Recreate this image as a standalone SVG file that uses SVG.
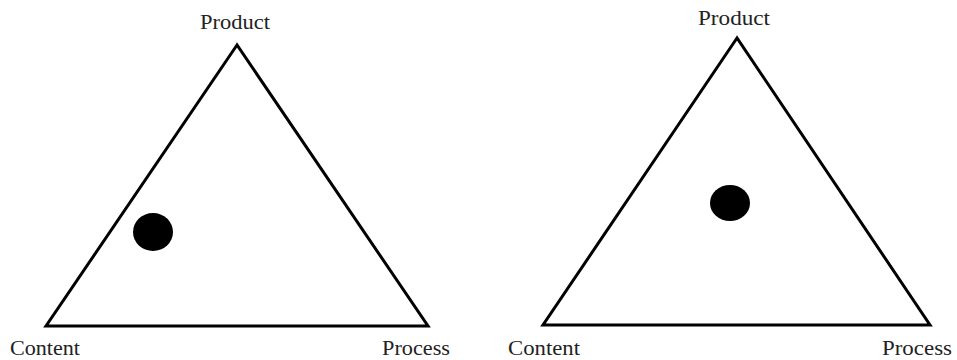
<svg xmlns="http://www.w3.org/2000/svg" width="957" height="360" viewBox="0 0 957 360">
<style>
.tri{fill:none;stroke:#000;stroke-width:3;stroke-linejoin:miter}
.lbl{font-family:"Liberation Serif","Times New Roman",serif;font-size:21px;fill:#222}
.low{font-size:20px}
.dot{fill:#000}
</style>
<rect width="957" height="360" fill="#fff"/>
<g id="left-diagram">
<polygon class="tri" points="237,45 46,326 428,326"/>
<ellipse class="dot" cx="153" cy="232" rx="20" ry="19"/>
<text class="lbl" x="200" y="29" textLength="70" lengthAdjust="spacingAndGlyphs">Product</text>
<text class="lbl low" x="10" y="355" textLength="70" lengthAdjust="spacingAndGlyphs">Content</text>
<text class="lbl low" x="382" y="355" textLength="68" lengthAdjust="spacingAndGlyphs">Process</text>
</g>
<g id="right-diagram">
<polygon class="tri" points="737,38 543,325 930,325"/>
<ellipse class="dot" cx="730" cy="203" rx="20" ry="18"/>
<text class="lbl" x="698" y="25" textLength="72" lengthAdjust="spacingAndGlyphs">Product</text>
<text class="lbl low" x="508" y="355" textLength="72" lengthAdjust="spacingAndGlyphs">Content</text>
<text class="lbl low" x="882" y="355" textLength="70" lengthAdjust="spacingAndGlyphs">Process</text>
</g>
<g id="connectors"></g>
</svg>
